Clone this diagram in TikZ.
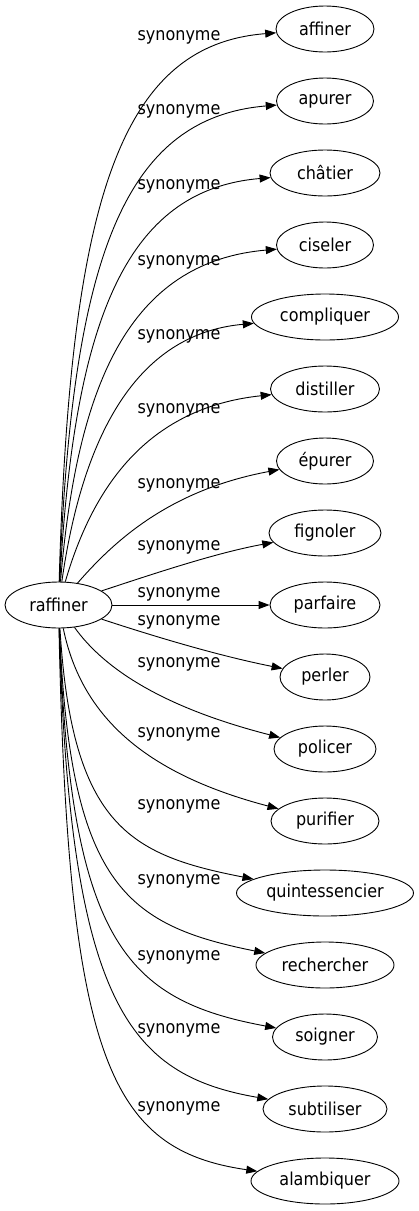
\documentclass[tikz,border=0pt]{standalone}
\usepackage{fontspec}
\setmainfont{DejaVu Sans}[FakeStretch=0.9]
\usetikzlibrary{shapes.geometric,arrows.meta}
\begin{document}
\begin{tikzpicture}[x=1pt,y=-1pt,
  syn/.style={draw,ellipse,line width=0.9pt,inner sep=0pt,minimum height=46pt,
    font=\fontsize{17.8}{20}\selectfont},
  lbl/.style={inner sep=0pt,font=\fontsize{17.8}{20}\selectfont},
  edge/.style={draw,line width=0.9pt,-{Triangle[length=11pt,width=8pt]}}]
\useasboundingbox (0,0) rectangle (419,1211);
\node[syn,minimum width=107pt] (r) at (58.5,605) {raffiner};
\node[syn,minimum width=98pt] (n1) at (325,29) {affiner};
\node[syn,minimum width=97pt] (n2) at (325,101) {apurer};
\node[syn,minimum width=110pt] (n3) at (325,173) {châtier};
\node[syn,minimum width=97pt] (n4) at (325,245) {ciseler};
\node[syn,minimum width=147pt] (n5) at (325,317) {compliquer};
\node[syn,minimum width=109pt] (n6) at (325,389) {distiller};
\node[syn,minimum width=97pt] (n7) at (325,461) {épurer};
\node[syn,minimum width=112pt] (n8) at (325,533) {fignoler};
\node[syn,minimum width=110pt] (n9) at (325,605) {parfaire};
\node[syn,minimum width=90pt] (n10) at (325,677) {perler};
\node[syn,minimum width=102pt] (n11) at (325,749) {policer};
\node[syn,minimum width=108pt] (n12) at (325,821) {purifier};
\node[syn,minimum width=177pt] (n13) at (325,893) {quintessencier};
\node[syn,minimum width=138pt] (n14) at (325,965) {rechercher};
\node[syn,minimum width=105pt] (n15) at (325,1037) {soigner};
\node[syn,minimum width=124pt] (n16) at (325,1109) {subtiliser};
\node[syn,minimum width=148pt] (n17) at (325,1181) {alambiquer};
% labels
\node[lbl] (l1) at (179,37) {synonyme};
\node[lbl] (l2) at (179,111) {synonyme};
\node[lbl] (l3) at (179,186) {synonyme};
\node[lbl] (l4) at (179,262) {synonyme};
\node[lbl] (l5) at (179,336) {synonyme};
\node[lbl] (l6) at (179,410) {synonyme};
\node[lbl] (l7) at (179,485) {synonyme};
\node[lbl] (l8) at (179,547) {synonyme};
\node[lbl] (l9) at (179,594) {synonyme};
\node[lbl] (l10) at (179,622) {synonyme};
\node[lbl] (l11) at (179,664) {synonyme};
\node[lbl] (l12) at (179,734) {synonyme};
\node[lbl] (l13) at (179,806) {synonyme};
\node[lbl] (l14) at (179,881) {synonyme};
\node[lbl] (l15) at (179,957) {synonyme};
\node[lbl] (l16) at (179,1030) {synonyme};
\node[lbl] (l17) at (179,1108) {synonyme};
% edges
\path[edge] (r) .. controls (70,200) and (120,45) .. (n1);
\path[edge] (r) .. controls (72,262) and (122,118) .. (n2);
\path[edge] (r) .. controls (74,324) and (124,190) .. (n3);
\path[edge] (r) .. controls (77,386) and (128,262) .. (n4);
\path[edge] (r) .. controls (82,440) and (134,334) .. (n5);
\path[edge] (r) .. controls (92,490) and (145,408) .. (n6);
\path[edge] (r) .. controls (115,540) and (170,490) .. (n7);
\path[edge] (r) .. controls (150,575) and (215,553) .. (n8);
\path[edge] (r) -- (n9);
\path[edge] (r) .. controls (150,635) and (215,655) .. (n10);
\path[edge] (r) .. controls (105,670) and (165,708) .. (n11);
\path[edge] (r) .. controls (82,720) and (150,775) .. (n12);
\path[edge] (r) .. controls (72,826) and (130,855) .. (n13);
\path[edge] (r) .. controls (70,884) and (125,925) .. (n14);
\path[edge] (r) .. controls (70,941) and (125,1000) .. (n15);
\path[edge] (r) .. controls (70,1003) and (128,1075) .. (n16);
\path[edge] (r) .. controls (68,1060) and (110,1150) .. (n17);
\end{tikzpicture}
\end{document}
